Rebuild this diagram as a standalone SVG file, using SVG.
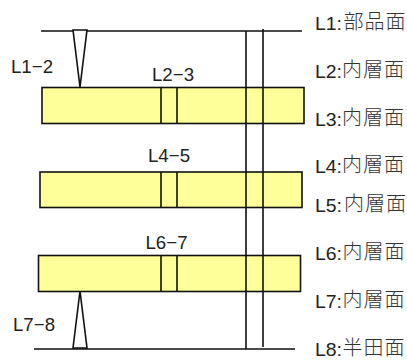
<svg xmlns="http://www.w3.org/2000/svg" width="407" height="360" viewBox="0 0 407 360">
<style>
.r{fill:#ffff99;stroke:#111;stroke-width:1.6}
.l{fill:none;stroke:#111;stroke-width:1.6}
.t{fill:#fff;stroke:#111;stroke-width:1.6;stroke-linejoin:miter}
text{font-family:"Liberation Sans","Noto Sans CJK JP",sans-serif;fill:#222}
.d{font-size:19px}
.s{font-size:19px}
.j{font-family:"Noto Sans CJK JP",sans-serif;font-size:20px;font-weight:300;fill:#333;letter-spacing:1px}
</style>
<g id="layer-1"><rect class="r" x="42" y="87.5" width="262" height="36"/></g>
<g id="layer-2"><rect class="r" x="40" y="172" width="262" height="35.5"/></g>
<g id="layer-3"><rect class="r" x="38.5" y="255.5" width="262" height="36"/></g>
<g id="connectors">
<path class="l" d="M41 31H302M34 349H295"/>
<path class="t" d="M73 30H87L80 87Z"/>
<path class="t" d="M73 348H87L80 291Z"/>
<path class="l" d="M161 87.5V123.5M177 87.5V123.5M161 172V207.5M177 172V207.5M161 255.5V291.5M177 255.5V291.5"/>
<path class="l" d="M246 31V349M263 29V347"/>
</g>
<g id="labels">
<text class="d" x="11" y="72.5" textLength="42" lengthAdjust="spacingAndGlyphs">L1−2</text>
<text class="d" x="152" y="80.5" textLength="42" lengthAdjust="spacingAndGlyphs">L2−3</text>
<text class="d" x="148" y="161.5" textLength="42" lengthAdjust="spacingAndGlyphs">L4−5</text>
<text class="d" x="145.5" y="249" textLength="42" lengthAdjust="spacingAndGlyphs">L6−7</text>
<text class="d" x="13" y="331" textLength="42" lengthAdjust="spacingAndGlyphs">L7−8</text>
<g class="s">
<text x="315" y="30" textLength="27" lengthAdjust="spacingAndGlyphs">L1:</text><text class="j" x="343.5" y="29">部品面</text>
<text x="315" y="78" textLength="27" lengthAdjust="spacingAndGlyphs">L2:</text><text class="j" x="342" y="77">内層面</text>
<text x="315" y="126" textLength="27" lengthAdjust="spacingAndGlyphs">L3:</text><text class="j" x="342" y="125">内層面</text>
<text x="315" y="173" textLength="27" lengthAdjust="spacingAndGlyphs">L4:</text><text class="j" x="342" y="172">内層面</text>
<text x="315" y="212" textLength="27" lengthAdjust="spacingAndGlyphs">L5:</text><text class="j" x="344" y="211">内層面</text>
<text x="315" y="260" textLength="27" lengthAdjust="spacingAndGlyphs">L6:</text><text class="j" x="342.5" y="259">内層面</text>
<text x="315" y="308" textLength="27" lengthAdjust="spacingAndGlyphs">L7:</text><text class="j" x="342.5" y="307">内層面</text>
<text x="315" y="356" textLength="27" lengthAdjust="spacingAndGlyphs">L8:</text><text class="j" x="342.5" y="355">半田面</text>
</g>
</g>
</svg>
